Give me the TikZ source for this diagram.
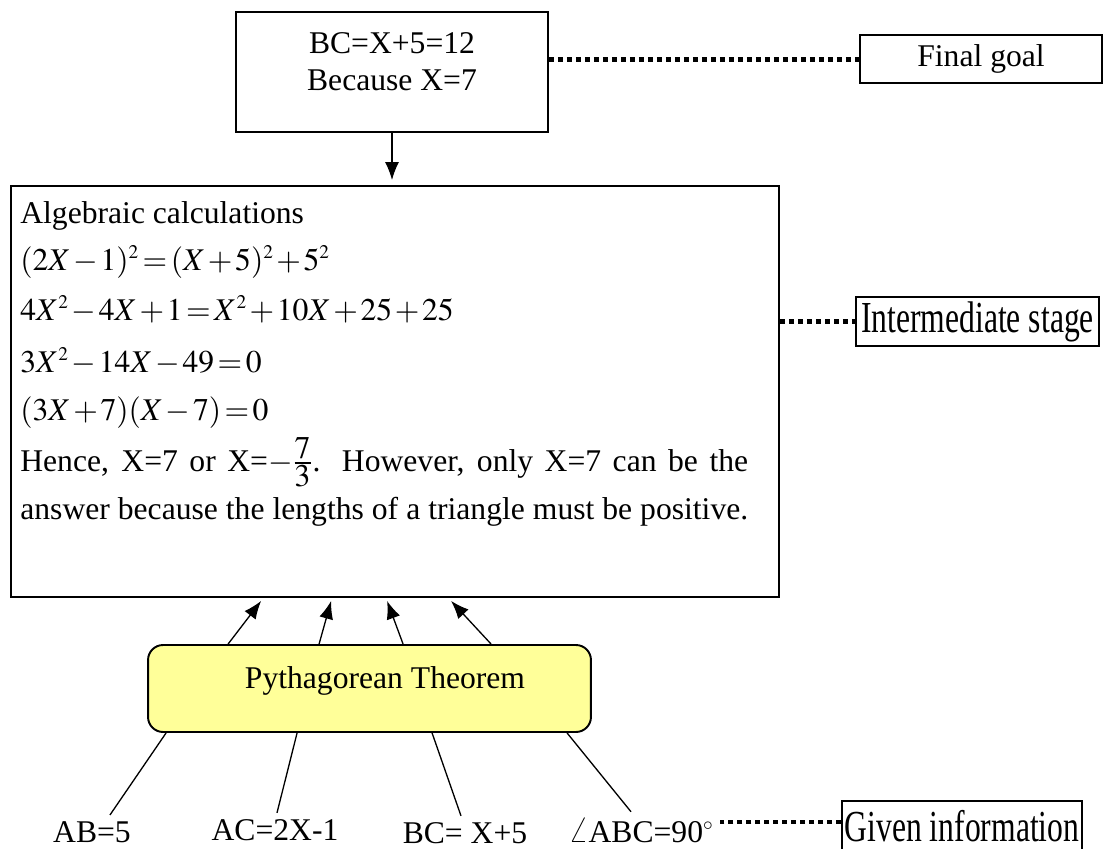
\documentclass[tikz,border=0pt]{standalone}
\usepackage{amsmath}
\usepackage{mathptmx}
\usepackage[no-math]{fontspec}
\setmainfont{Liberation Serif}
\DeclareMathSizes{18}{18}{11}{9}
\usetikzlibrary{arrows.meta, calc}
\definecolor{pyyellow}{RGB}{255,255,153}

\begin{document}
\begin{tikzpicture}[x=0.02cm, y=-0.02cm,
  every node/.style={font=\fontsize{18}{21}\selectfont},
  frame/.style={draw, line width=1.1pt, inner sep=0pt},
  tag/.style={draw, line width=0.9pt, inner sep=0pt},
  linetext/.style={anchor=base west, inner sep=0pt,
    execute at begin node={\thickmuskip=2mu\medmuskip=1.5mu}},
  dotlink/.style={line width=0.1cm, dash pattern=on 0.1cm off 0.08cm},
  arr/.style={-{Latex[length=0.36cm,width=0.28cm]}, line width=0.75pt},
  feed/.style={line width=0.75pt}]
  \useasboundingbox (0,0) rectangle (1103,849);

  % final goal
  \node[frame, minimum width=6.24cm, minimum height=2.4cm] (goal) at (392,72) {};
  \node[align=center] (goaltext) at (392,62) {BC=X+5=12\\Because X=7};
  \node[tag, minimum width=4.84cm, minimum height=0.96cm] (final) at (981,59) {Final goal};
  \draw[dotlink] (goal.east |- final.west) -- (final.west);

  % intermediate stage
  \node[frame, minimum width=15.36cm, minimum height=8.22cm] (algebra) at (395,391.5) {};
  \draw[arr, shorten >=0.1cm] (goal.south) -- (goal.south |- algebra.north);
  \node[linetext] (l1) at (20,223) {Algebraic calculations};
  \node[linetext] (l2) at (20,270) {$(2X-1)^2=(X+5)^2+5^2$};
  \node[linetext] (l3) at (20,320) {$4X^2-4X+1=X^2+10X+25+25$};
  \node[linetext] (l4) at (20,372) {$3X^2-14X-49=0$};
  \node[linetext] (l5) at (20,420) {$(3X+7)(X-7)=0$};
  \node[linetext] (l6) at (20,471) {\makebox[14.56cm][s]{Hence, X=7 or X=$-\frac{\textstyle 7}{\textstyle 3}$. However, only X=7 can be the}};
  \node[linetext] (l7) at (20,519) {\makebox[14.56cm][s]{answer because the lengths of a triangle must be positive.}};
  \node[tag, minimum width=4.86cm, minimum height=0.98cm] (inter) at (977.5,321.5) {\scalebox{1}[1.4]{Intermediate stage}};
  \draw[dotlink] (algebra.east |- inter.west) -- (inter.west);

  % given information
  \node[draw, fill=pyyellow, rounded corners=0.3cm, line width=1.1pt,
        minimum width=8.86cm, minimum height=1.74cm] (pyth) at (369.5,688.5) {};
  \node[anchor=base] (pythtext) at (385,688) {Pythagorean Theorem};
  \foreach \a/\b in {81/251, 172/321, 256/377, 344/441}
    \draw[arr] ($(pyth.north west)+(\a,0)$) -- ($(algebra.south west)+(\b,3)$);
  \node[anchor=base] (ab) at (92,842) {AB=5};
  \node[anchor=base] (ac) at (275,840) {AC=2X-1};
  \node[anchor=base] (bc) at (465,843) {BC= X+5};
  \node[anchor=base] (ang) at (641,842) {\scalebox{1.35}{$\angle$}ABC=90$^\circ$};
  \foreach \a/\n/\s in {19/ab/18, 150/ac/2, 285/bc/-4, 420/ang/-10}
    \draw[feed] ($(pyth.south west)+(\a,0)$) -- ($(\n.north)+(\s,0)$);
  \node[tag, minimum width=4.8cm, minimum height=1.0cm] (given) at (962,826) {\scalebox{1}[1.4]{Given information}};
  \draw[dotlink, line width=0.07cm] ($(given.west)+(0,-4)$) coordinate (gv) -- (gv -| ang.east);
\end{tikzpicture}
\end{document}
